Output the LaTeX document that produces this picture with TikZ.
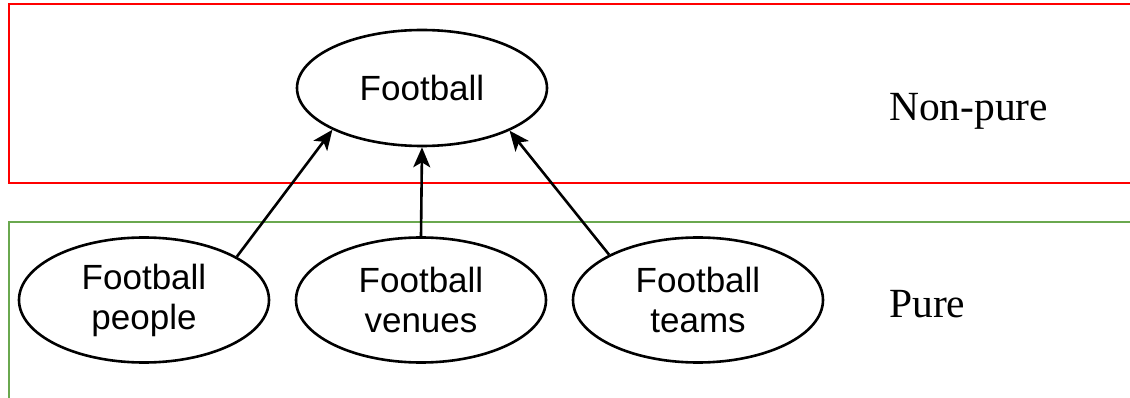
\documentclass[tikz,border=0pt]{standalone}
\usepackage{fontspec}
\setmainfont{Liberation Serif}
\newfontfamily\labelfont{Liberation Sans}
\usetikzlibrary{shapes.geometric,arrows.meta}
\definecolor{layerred}{HTML}{FF0000}
\definecolor{layergreen}{HTML}{6AA84F}
\begin{document}
\begin{tikzpicture}[x=1pt,y=-1pt,
  concept/.style={ellipse,draw=black,line width=2.6pt,inner sep=0pt,
    minimum width=250pt,align=center,
    font=\labelfont\fontsize{35}{40}\selectfont},
  link/.style={line width=2.6pt,-{Stealth[length=20pt,width=17pt,inset=5pt]}},
  layer/.style={font=\fontsize{41.5}{46}\selectfont,anchor=base west,inner sep=0pt}]
  \useasboundingbox (0,0) rectangle (1130,398);
  % layer frames
  \draw[layerred,line width=2.4pt] (1131,4) -- (9,4) -- (9,183) -- (1131,183);
  \draw[layergreen,line width=2.4pt] (1131,222) -- (9,222) -- (9,399);
  % concepts
  \node[concept,minimum height=116pt] (top) at (422,88) {Football};
  \node[concept,minimum height=125pt] (people) at (144,300) {Football\\people};
  \node[concept,minimum height=125pt] (venues) at (421,300) {Football\\venues};
  \node[concept,minimum height=125pt] (teams) at (698,300) {Football\\teams};
  % links
  \draw[link] (people.25.5) -- (top.205.3);
  \draw[link] (venues.north) -- (top.south);
  \draw[link] (teams.153) -- (top.334.5);
  % layer labels
  \node[layer] (nonpure) at (889,121) {Non-pure};
  \node[layer] (pure) at (889,317) {Pure};
\end{tikzpicture}
\end{document}
